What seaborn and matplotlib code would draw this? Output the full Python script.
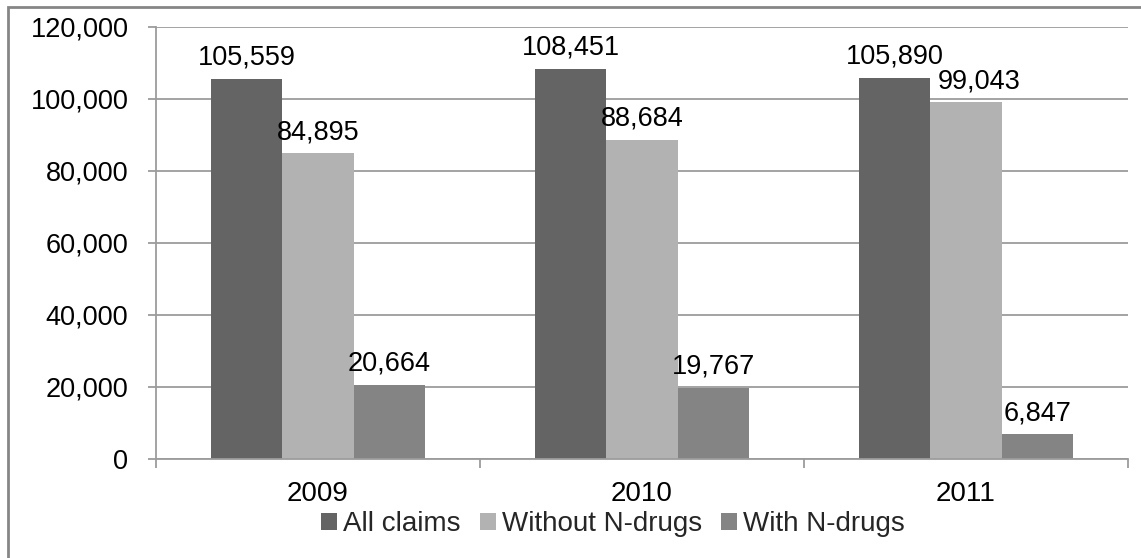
import matplotlib
matplotlib.use("Agg")
import matplotlib.pyplot as plt
from matplotlib.patches import Rectangle
from matplotlib.ticker import FuncFormatter, FixedLocator
import seaborn as sns
import pandas as pd

# Claim counts per year, split by N-drug use
years = ["2009", "2010", "2011"]
all_claims = [105559, 108451, 105890]
without_n_drugs = [84895, 88684, 99043]
with_n_drugs = [20664, 19767, 6847]
series_names = ["All claims", "Without N-drugs", "With N-drugs"]
series_colors = ["#646464", "#b2b2b2", "#848484"]

rows = []
for name, values in zip(series_names, [all_claims, without_n_drugs, with_n_drugs]):
    for yr, v in zip(years, values):
        rows.append({"year": yr, "series": name, "claims": v})
df = pd.DataFrame(rows)

sns.set_style("white")
plt.rcParams["font.family"] = ["Liberation Sans", "DejaVu Sans"]

W, H = 1141, 558
fig = plt.figure(figsize=(W / 100, H / 100), dpi=100)
ax = fig.add_axes([156 / W, 1 - 459 / H, (1128 - 156) / W, (459 - 27) / H])

sns.barplot(data=df, x="year", y="claims", hue="series", order=years,
            hue_order=series_names, palette=series_colors, width=0.66,
            linewidth=0, saturation=1, ax=ax, errorbar=None, legend=True)

grid_color = "#9c9c9c"
ax.set_xlim(-0.5, 2.5)
ax.set_ylim(0, 120000)
ax.set_yticks(range(0, 120001, 20000))
ax.yaxis.set_major_formatter(FuncFormatter(lambda v, p: f"{int(v):,}"))
ax.yaxis.grid(True, color=grid_color, linewidth=1.3)
ax.set_axisbelow(True)
ax.set_xlabel("")
ax.set_ylabel("")

for side in ["top", "right"]:
    ax.spines[side].set_visible(False)
for side in ["left", "bottom"]:
    ax.spines[side].set_color(grid_color)
    ax.spines[side].set_linewidth(1.3)

ax.tick_params(axis="y", which="major", direction="out", length=5.8, width=1.3,
               color=grid_color, labelsize=19.5, pad=14, labelcolor="#000000", left=True)
ax.tick_params(axis="x", which="major", length=0, labelsize=20, pad=16,
               labelcolor="#000000")
ax.xaxis.set_minor_locator(FixedLocator([-0.5, 0.5, 1.5, 2.5]))
ax.tick_params(axis="x", which="minor", direction="out", length=6.5, width=1.3,
               color=grid_color, bottom=True)

# value labels above every bar
label_sets = []
for container in ax.containers:
    texts = ax.bar_label(container, labels=[f"{int(v):,}" for v in container.datavalues],
                         padding=6, fontsize=19.5, color="#000000")
    label_sets.append(texts)

# nudge a label sideways when it would collide with its left neighbour
fig.canvas.draw()
renderer = fig.canvas.get_renderer()
for prev_set, cur_set in zip(label_sets[:-1], label_sets[1:]):
    for prev, cur in zip(prev_set, cur_set):
        pb = prev.get_window_extent(renderer)
        cb = cur.get_window_extent(renderer)
        overlap_x = pb.x1 - cb.x0
        overlap_y = min(pb.y1, cb.y1) - max(pb.y0, cb.y0)
        if overlap_x > 0 and overlap_y > 0:
            dx, dy = cur.xyann
            cur.xyann = (dx + (overlap_x - 6) * 72 / fig.dpi, dy)

handles, labels = ax.get_legend_handles_labels()
ax.legend_.remove()
fig.legend(handles, labels, loc="center", bbox_to_anchor=(613 / W, 1 - 524 / H),
           ncol=3, frameon=False, fontsize=20, handlelength=0.58,
           handleheight=0.58, handletextpad=0.2, columnspacing=0.7,
           borderaxespad=0, borderpad=0)

# chart-area frame (left and top edges visible)
fig.patches.append(Rectangle((7.5 / W, -0.1), 1.2, 1 - 6.5 / H + 0.1,
                             transform=fig.transFigure, fill=False,
                             edgecolor="#868686", linewidth=2, zorder=0))

fig.savefig("out.png", dpi=100, facecolor="white")
